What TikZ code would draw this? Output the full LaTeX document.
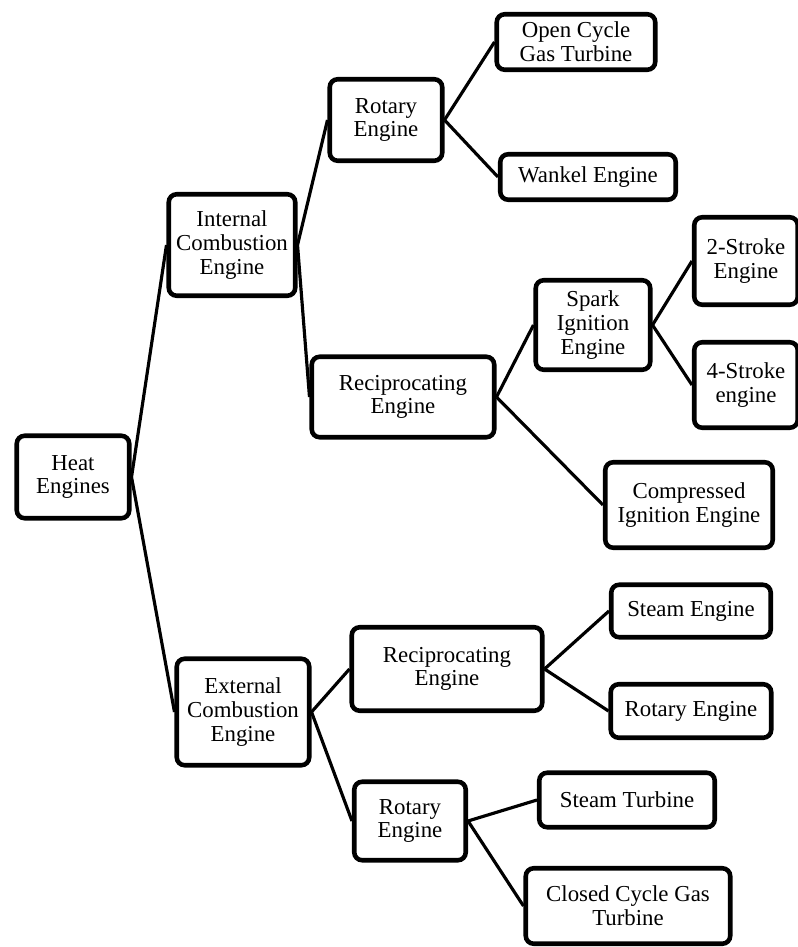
\documentclass[tikz,border=0pt]{standalone}
\usepackage{fontspec}
\setmainfont{Liberation Serif}
\usepackage{tikz}
\tikzset{
	engbox/.style={draw, line width=2.6pt, rounded corners=4.5pt, align=center, inner sep=0pt,
		font=\fontsize{13}{13.5}\selectfont},
	branch/.style={line width=1.8pt}
}

\begin{document}
\begin{tikzpicture}[x=0.02cm, y=-0.02cm]
				\useasboundingbox (0, 0) rectangle (798, 947);
				
				\node[engbox, minimum width=2.25cm, minimum height=1.65cm] (heat) at (73, 477) {Heat\\Engines};
				
				\node[engbox, minimum width=2.53cm, minimum height=2.03cm] (ice) at (232, 245) {Internal\\Combustion\\Engine};
				\node[engbox, minimum width=2.65cm, minimum height=2.13cm] (ece) at (243, 712) {External\\Combustion\\Engine};
				
				\node[engbox, minimum width=2.25cm, minimum height=1.63cm] (irot) at (386, 120) {Rotary\\Engine};
				\node[engbox, minimum width=3.17cm, minimum height=1.11cm] (ocgt) at (576, 42) {Open Cycle\\Gas Turbine};
				\node[engbox, minimum width=3.51cm, minimum height=0.91cm] (wankel) at (588, 177) {Wankel Engine};
				
				\node[engbox, minimum width=3.65cm, minimum height=1.61cm] (irec) at (403, 397) {Reciprocating\\Engine};
				\node[engbox, minimum width=2.29cm, minimum height=1.79cm] (spark) at (593, 325) {Spark\\Ignition\\Engine};
				\node[engbox, minimum width=2.07cm, minimum height=1.75cm] (two) at (746, 261) {2-Stroke\\Engine};
				\node[engbox, minimum width=2.07cm, minimum height=1.71cm] (four) at (746, 385) {4-Stroke\\engine};
				\node[engbox, minimum width=3.35cm, minimum height=1.71cm] (comp) at (689, 505) {Compressed\\Ignition Engine};
				
				\node[engbox, minimum width=3.81cm, minimum height=1.67cm] (erec) at (447, 669) {Reciprocating\\Engine};
				\node[engbox, minimum width=3.19cm, minimum height=1.05cm] (steam) at (691, 611) {Steam Engine};
				\node[engbox, minimum width=3.21cm, minimum height=1.07cm] (erotr) at (691, 711) {Rotary Engine};
				
				\node[engbox, minimum width=2.23cm, minimum height=1.57cm] (erot) at (410, 821) {Rotary\\Engine};
				\node[engbox, minimum width=3.51cm, minimum height=1.09cm] (sturb) at (627, 800) {Steam Turbine};
				\node[engbox, minimum width=4.09cm, minimum height=1.51cm] (ccgt) at (628, 906) {Closed Cycle Gas\\Turbine};
				
				% branches
				\draw[branch] (heat.east) -- (ice.west);
				\draw[branch] (heat.east) -- (ece.west);
				\draw[branch] (ice.east) -- (irot.west);
				\draw[branch] (ice.east) -- (irec.west);
				\draw[branch] (irot.east) -- (ocgt.west);
				\draw[branch] (irot.east) -- (wankel.west);
				\draw[branch] (irec.east) -- (spark.west);
				\draw[branch] (irec.east) -- (comp.west);
				\draw[branch] (spark.east) -- (two.west);
				\draw[branch] (spark.east) -- (four.west);
				\draw[branch] (ece.east) -- (erec.west);
				\draw[branch] (ece.east) -- (erot.west);
				\draw[branch] (erec.east) -- (steam.west);
				\draw[branch] (erec.east) -- (erotr.west);
				\draw[branch] (erot.east) -- (sturb.west);
				\draw[branch] (erot.east) -- (ccgt.west);
			\end{tikzpicture}
\end{document}
